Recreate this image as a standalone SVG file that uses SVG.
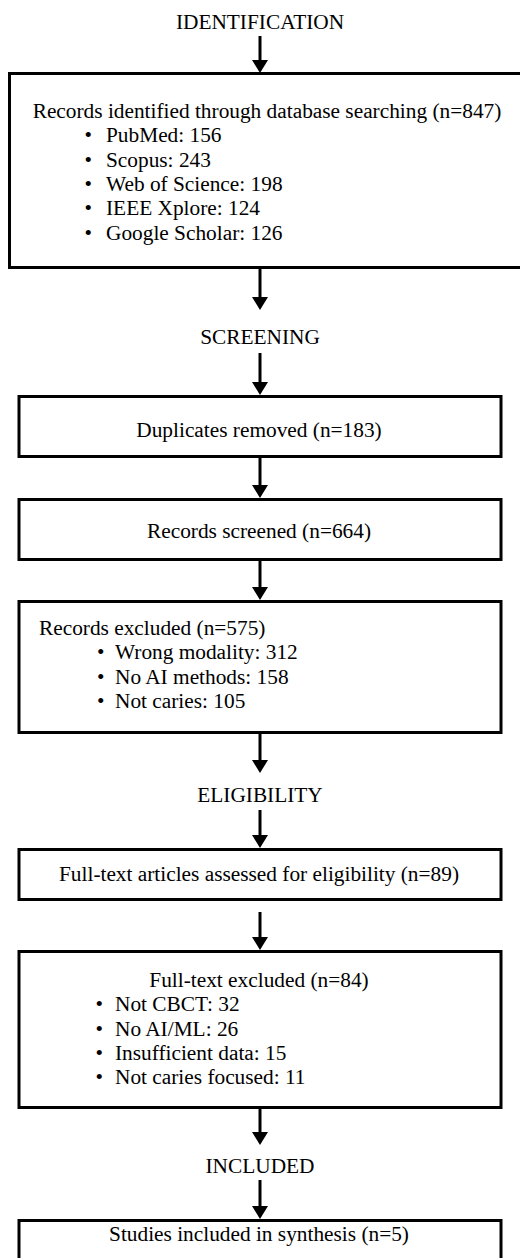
<svg xmlns="http://www.w3.org/2000/svg" width="520" height="1258" viewBox="0 0 520 1258">
<defs>
<style>
text{font-family:"Liberation Serif","Times New Roman",serif;font-size:21.33px;fill:#000}
.c{text-anchor:middle}
.box{fill:#fff;stroke:#000;stroke-width:3}
.conn line{stroke:#000;stroke-width:3}
</style>
<marker id="ah" markerUnits="userSpaceOnUse" markerWidth="14" markerHeight="16" refX="1" refY="8" orient="auto">
<path d="M0,0 L13,8 L0,16 z" fill="#000"/>
</marker>
</defs>
<rect width="520" height="1258" fill="#fff"/>

<g id="label-identification"><text class="c" x="260" y="29">IDENTIFICATION</text></g>

<g id="node-identified">
<rect class="box" x="9.5" y="73.5" width="516" height="194"/>
<text class="c" x="267" y="118">Records identified through database searching (n=847)</text>
<text x="84.5" y="142.3">•</text><text x="106" y="142.3">PubMed: 156</text>
<text x="84.5" y="166.6">•</text><text x="106" y="166.6">Scopus: 243</text>
<text x="84.5" y="191">•</text><text x="106" y="191">Web of Science: 198</text>
<text x="84.5" y="215.2">•</text><text x="106" y="215.2">IEEE Xplore: 124</text>
<text x="84.5" y="239.5">•</text><text x="106" y="239.5">Google Scholar: 126</text>
</g>

<g id="label-screening"><text class="c" x="260" y="344">SCREENING</text></g>

<g id="node-duplicates">
<rect class="box" x="19" y="396.5" width="482" height="60"/>
<text class="c" x="259" y="437">Duplicates removed (n=183)</text>
</g>

<g id="node-screened">
<rect class="box" x="19" y="499.5" width="482" height="60"/>
<text class="c" x="259" y="538">Records screened (n=664)</text>
</g>

<g id="node-excluded">
<rect class="box" x="19" y="601.5" width="482" height="131"/>
<text x="39" y="635">Records excluded (n=575)</text>
<text x="97" y="659.3">•</text><text x="115" y="659.3">Wrong modality: 312</text>
<text x="97" y="683.6">•</text><text x="115" y="683.6">No AI methods: 158</text>
<text x="97" y="708">•</text><text x="115" y="708">Not caries: 105</text>
</g>

<g id="label-eligibility"><text class="c" x="260" y="802">ELIGIBILITY</text></g>

<g id="node-fulltext">
<rect class="box" x="19" y="849.5" width="482" height="50"/>
<text class="c" x="259" y="881">Full-text articles assessed for eligibility (n=89)</text>
</g>

<g id="node-fulltext-excluded">
<rect class="box" x="19" y="951.5" width="482" height="156"/>
<text class="c" x="259" y="987">Full-text excluded (n=84)</text>
<text x="95.5" y="1011">•</text><text x="115" y="1011">Not CBCT: 32</text>
<text x="95.5" y="1035.5">•</text><text x="115" y="1035.5">No AI/ML: 26</text>
<text x="95.5" y="1060">•</text><text x="115" y="1060">Insufficient data: 15</text>
<text x="95.5" y="1084">•</text><text x="115" y="1084">Not caries focused: 11</text>
</g>

<g id="label-included"><text class="c" x="260" y="1173">INCLUDED</text></g>

<g id="node-studies">
<rect class="box" x="19" y="1220.5" width="482" height="55"/>
<text class="c" x="259" y="1241">Studies included in synthesis (n=5)</text>
</g>

<g id="connectors" class="conn">
<line x1="260" y1="36" x2="260" y2="61" marker-end="url(#ah)"/>
<line x1="260" y1="269" x2="260" y2="298" marker-end="url(#ah)"/>
<line x1="260" y1="353" x2="260" y2="383" marker-end="url(#ah)"/>
<line x1="260" y1="458" x2="260" y2="486" marker-end="url(#ah)"/>
<line x1="260" y1="561" x2="260" y2="588" marker-end="url(#ah)"/>
<line x1="260" y1="734" x2="260" y2="761" marker-end="url(#ah)"/>
<line x1="260" y1="810" x2="260" y2="836" marker-end="url(#ah)"/>
<line x1="260" y1="912" x2="260" y2="938" marker-end="url(#ah)"/>
<line x1="260" y1="1109" x2="260" y2="1133" marker-end="url(#ah)"/>
<line x1="260" y1="1180" x2="260" y2="1207" marker-end="url(#ah)"/>
</g>
</svg>
